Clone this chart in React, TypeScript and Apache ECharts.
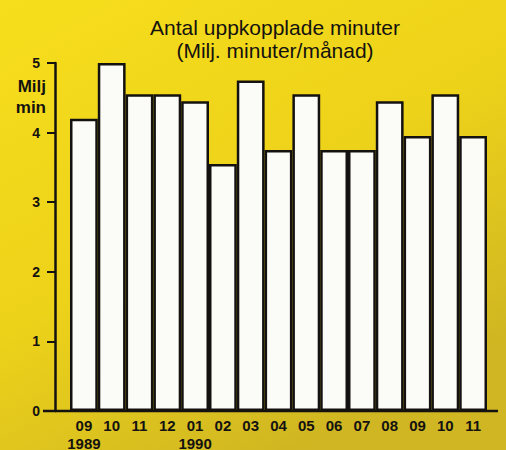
import React, { useEffect, useRef } from "react";
import * as echarts from "echarts";

const months = ["09", "10", "11", "12", "01", "02", "03", "04", "05", "06", "07", "08", "09", "10", "11"];
const yearLabels = ["1989", "", "", "", "1990", "", "", "", "", "", "", "", "", "", ""];
const minutes = [4.2, 5.0, 4.55, 4.55, 4.45, 3.55, 4.75, 3.75, 4.55, 3.75, 3.75, 4.45, 3.95, 4.55, 3.95];
const yTicks = [0, 1, 2, 3, 4, 5];
const titleLines = ["Antal uppkopplade minuter", "(Milj. minuter/månad)"];
const yUnit = ["Milj", "min"];

const FONT = "'Liberation Sans', Arial, Helvetica, sans-serif";
const INK = "#141210";

export default function App() {
  const ref = useRef<HTMLDivElement>(null);
  useEffect(() => {
    document.body.style.margin = "0";
    const chart = echarts.init(ref.current!, null, { renderer: "svg" });
    const categories = months.map((m, i) => (yearLabels[i] ? `${m}\n${yearLabels[i]}` : m));
    chart.setOption({
      animation: false,
      backgroundColor: {
        type: "linear",
        x: 0,
        y: 0,
        x2: 0.6,
        y2: 1,
        colorStops: [
          { offset: 0, color: "#F7DE1C" },
          { offset: 0.55, color: "#EDD21A" },
          { offset: 1, color: "#CFB622" },
        ],
      },
      title: {
        text: titleLines.join("\n"),
        left: 270,
        top: 11,
        textAlign: "center",
        textStyle: {
          fontFamily: FONT,
          fontSize: 21,
          fontWeight: "normal",
          color: INK,
          lineHeight: 23,
        },
      },
      grid: { left: 70, right: 19, top: 63, bottom: 39, containLabel: false, outerBoundsMode: "none" },
      xAxis: {
        type: "category",
        data: categories,
        boundaryGap: true,
        axisLine: { show: false },
        axisTick: { show: false },
        axisLabel: {
          interval: 0,
          margin: 5,
          fontFamily: FONT,
          fontSize: 15,
          fontWeight: "bold",
          color: INK,
          lineHeight: 18,
          verticalAlign: "top",
        },
      },
      yAxis: {
        type: "value",
        min: 0,
        max: 5,
        interval: 1,
        offset: 15,
        splitLine: { show: false },
        axisLine: { show: true, lineStyle: { color: INK, width: 2.5 } },
        axisTick: { show: true, length: 8, lineStyle: { color: INK, width: 2 } },
        axisLabel: {
          margin: 15,
          fontFamily: FONT,
          fontSize: 14,
          fontWeight: "bold",
          color: INK,
          formatter: (v: number) => (yTicks.includes(v) ? String(v) : ""),
        },
      },
      graphic: [
        {
          type: "line",
          shape: { x1: 43, y1: 411, x2: 498, y2: 411 },
          style: { stroke: INK, lineWidth: 2.5 },
          z: 10,
        },
        {
          type: "text",
          x: 46,
          y: 76,
          style: {
            text: yUnit.join("\n"),
            fontFamily: FONT,
            fontSize: 17,
            fontWeight: "bold",
            fill: INK,
            align: "right",
            lineHeight: 21,
          },
        },
      ],
      series: [
        {
          type: "bar",
          data: minutes,
          barWidth: "100%",
          barCategoryGap: "0%",
          itemStyle: { color: "#FBFBF7", borderColor: INK, borderWidth: 2.5 },
        },
      ],
    });
    return () => chart.dispose();
  }, []);
  return <div ref={ref} style={{ width: 506, height: 450, position: "absolute", left: 0, top: 0 }} />;
}
